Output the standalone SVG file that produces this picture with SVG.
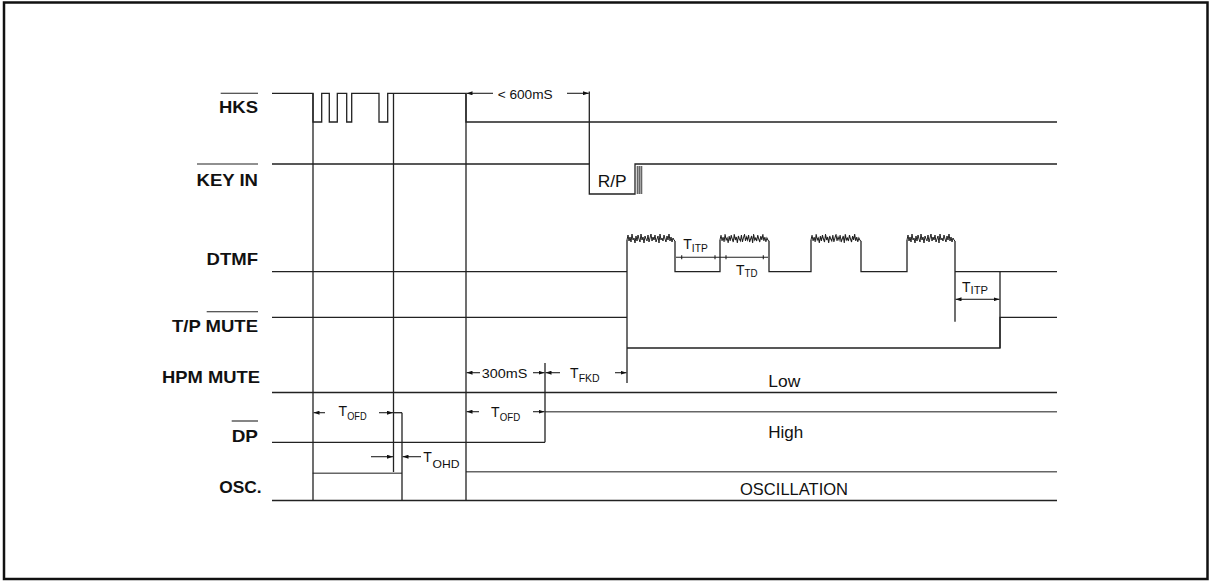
<svg xmlns="http://www.w3.org/2000/svg" width="1214" height="586" viewBox="0 0 1214 586">
<style>
.sig{fill:none;stroke:#222;stroke-width:1.3}
.nz{fill:none;stroke:#222;stroke-width:1}
.gry{fill:none;stroke:#666;stroke-width:1.6}
.dim{fill:none;stroke:#222;stroke-width:1.1}
.lbl{font-family:"Liberation Sans",Arial,sans-serif;font-weight:bold;font-size:16.5px;fill:#111}
.txt{font-family:"Liberation Sans",Arial,sans-serif;font-size:16.5px;fill:#111}
.sm{font-family:"Liberation Sans",Arial,sans-serif;font-size:13px;fill:#111}
.T{font-family:"Liberation Sans",Arial,sans-serif;font-size:14px;fill:#111}
.sub{font-family:"Liberation Sans",Arial,sans-serif;font-size:11px;fill:#111}
</style>
<defs>
<marker id="ah" viewBox="0 0 6 4" refX="6" refY="2" markerWidth="6" markerHeight="4" markerUnits="userSpaceOnUse" orient="auto">
<path d="M0,0 L6,2 L0,4 Z" fill="#111"/>
</marker>
<path id="noise" d="M0 0 L1 -5 L2 1 L3 -3 L4 2 L5 -6 L6 0 L7 -2 L8 3 L9 -4 L10 1 L11 -5 L12 -1 L13 2 L14 -6 L15 0 L16 -3 L17 3 L18 -4 L19 -1 L20 1 L21 -5 L22 2 L23 -2 L24 -6 L25 1 L26 -3 L27 0 L28 -5 L29 2 L30 -1 L31 -4 L32 3 L33 -6 L34 0 L35 -2 L36 1 L37 -5 L38 -1 L39 2 L40 -4 L41 0 L42 -6 L43 1 L44 -3 L45 2 L46 -2 L47 0 L48 1"/>
</defs>
<rect x="4" y="2.5" width="1203.5" height="576.5" fill="#fff" stroke="#111" stroke-width="2.5"/>

<g id="labels">
<text class="lbl" x="258" y="113" text-anchor="end" textLength="39" lengthAdjust="spacingAndGlyphs">HKS</text>
<line class="dim" x1="220.7" y1="93.3" x2="258" y2="93.3"/>
<text class="lbl" x="258" y="186" text-anchor="end" textLength="61.5" lengthAdjust="spacingAndGlyphs">KEY IN</text>
<line class="dim" x1="197" y1="164" x2="258" y2="164"/>
<text class="lbl" x="258" y="265" text-anchor="end" textLength="51.4" lengthAdjust="spacingAndGlyphs">DTMF</text>
<text class="lbl" x="258" y="331.5" text-anchor="end" textLength="86" lengthAdjust="spacingAndGlyphs">T/P MUTE</text>
<line class="dim" x1="206.7" y1="311.7" x2="258" y2="311.7"/>
<text class="lbl" x="260" y="383" text-anchor="end" textLength="98" lengthAdjust="spacingAndGlyphs">HPM MUTE</text>
<text class="lbl" x="258" y="441.7" text-anchor="end" textLength="26.3" lengthAdjust="spacingAndGlyphs">DP</text>
<line class="dim" x1="231.7" y1="421" x2="258" y2="421"/>
<text class="lbl" x="261.7" y="493" text-anchor="end" textLength="42.4" lengthAdjust="spacingAndGlyphs">OSC.</text>
</g>

<g id="hks">
<path class="sig" d="M272 93.3 H313 V122 H321.7 V93.3 H329.3 V122 H337.3 V93.3 H346.7 V122 H351.7 V93.3 H379 V122 H387.7 V93.3 H466 V122 H1057"/>
</g>

<g id="keyin">
<path class="sig" d="M272 164 H589.3 V194 H635 V164 H1057"/>
<path class="gry" d="M637.5 166 V194 M639.5 166 V194 M641.5 166 V194"/>
<text class="txt" x="597.7" y="186.7" textLength="29" lengthAdjust="spacingAndGlyphs">R/P</text>
</g>

<g id="dtmf">
<path class="sig" d="M272 271.7 H627 M675 241 V271.7 H720 V240 M769 241 V271.7 H811 V240 M861 241 V271.7 H907 V240 M955 271.7 H1057"/>
<use href="#noise" class="nz" transform="translate(627,240)"/>
<use href="#noise" class="nz" transform="translate(720,240) scale(1.02,1)"/>
<use href="#noise" class="nz" transform="translate(811,240) scale(1.04,1)"/>
<use href="#noise" class="nz" transform="translate(907,240)"/>
</g>

<g id="tpmute">
<path class="sig" d="M272 317.3 H627 M627 348 H1000 V317.3 H1057"/>
</g>

<g id="hpmmute">
<path class="sig" d="M272 392.5 H1057"/>
<text class="txt" x="768.3" y="386.7" textLength="32" lengthAdjust="spacingAndGlyphs">Low</text>
</g>

<g id="dp">
<path class="sig" d="M272 442.3 H545"/>
<path class="sig" d="M393.5 412.7 H402"/>
<path class="gry" d="M545 411.7 H1057"/>
<text class="txt" x="768.3" y="438" textLength="35" lengthAdjust="spacingAndGlyphs">High</text>
</g>

<g id="osc">
<path class="gry" d="M312.7 473.3 H402 M466 471.7 H1057"/>
<path class="sig" d="M272 500.5 H1057"/>
<text class="txt" x="794" y="494.5" text-anchor="middle" textLength="108" lengthAdjust="spacingAndGlyphs">OSCILLATION</text>
</g>

<g id="connectors">
<path class="sig" d="M313 93.3 V500.5 M393.5 93.3 V472 M402 412.7 V500.5 M466 93.3 V500.5 M545 363 V442.3 M589.3 91.5 V164 M627 240 V383 M955 241 V321.7 M1000 271.7 V348"/>
<line class="dim" x1="493" y1="93.3" x2="466.5" y2="93.3" marker-end="url(#ah)"/>
<line class="dim" x1="567" y1="93.3" x2="588.8" y2="93.3" marker-end="url(#ah)"/>
<text class="sm" x="497.7" y="98.5" textLength="55" lengthAdjust="spacingAndGlyphs">&lt; 600mS</text>

<path class="dim" d="M676 257.3 H768 M681.7 255.3 V259.3 M715 255.3 V259.3 M726 255.3 V259.3 M763.3 255.3 V259.3"/>
<text class="T" x="683.3" y="249.3">T</text><text class="sub" x="691.8" y="251.7" textLength="16" lengthAdjust="spacingAndGlyphs">ITP</text>
<text class="T" x="736" y="275">T</text><text class="sub" x="744.6" y="277.3" textLength="13" lengthAdjust="spacingAndGlyphs">TD</text>

<line class="dim" x1="977" y1="299.3" x2="955.5" y2="299.3" marker-end="url(#ah)"/>
<line class="dim" x1="977" y1="299.3" x2="999.5" y2="299.3" marker-end="url(#ah)"/>
<text class="T" x="962" y="291.7">T</text><text class="sub" x="970.6" y="294" textLength="17.5" lengthAdjust="spacingAndGlyphs">ITP</text>

<line class="dim" x1="480" y1="372.7" x2="466.5" y2="372.7" marker-end="url(#ah)"/>
<line class="dim" x1="533" y1="372.7" x2="544.5" y2="372.7" marker-end="url(#ah)"/>
<text class="sm" x="481.7" y="377.7" textLength="45.6" lengthAdjust="spacingAndGlyphs">300mS</text>
<line class="dim" x1="560" y1="372.7" x2="545.5" y2="372.7" marker-end="url(#ah)"/>
<line class="dim" x1="615" y1="372.7" x2="626.5" y2="372.7" marker-end="url(#ah)"/>
<text class="T" x="570" y="378">T</text><text class="sub" x="578.7" y="381.7" textLength="21" lengthAdjust="spacingAndGlyphs">FKD</text>

<line class="dim" x1="325" y1="412.7" x2="313.5" y2="412.7" marker-end="url(#ah)"/>
<line class="dim" x1="379" y1="412.7" x2="393" y2="412.7" marker-end="url(#ah)"/>
<text class="T" x="338.5" y="416">T</text><text class="sub" x="347.2" y="420" textLength="19.5" lengthAdjust="spacingAndGlyphs">OFD</text>

<line class="dim" x1="479" y1="411.7" x2="466.5" y2="411.7" marker-end="url(#ah)"/>
<line class="dim" x1="533" y1="411.7" x2="544.5" y2="411.7" marker-end="url(#ah)"/>
<text class="T" x="491" y="416.7">T</text><text class="sub" x="499.7" y="420.7" textLength="20.5" lengthAdjust="spacingAndGlyphs">OFD</text>

<line class="dim" x1="371" y1="456.7" x2="393" y2="456.7" marker-end="url(#ah)"/>
<line class="dim" x1="421" y1="456.7" x2="402.5" y2="456.7" marker-end="url(#ah)"/>
<text class="T" x="423.3" y="461.7">T</text><text class="sub" x="432.5" y="467.7" textLength="27" lengthAdjust="spacingAndGlyphs">OHD</text>
</g>
</svg>
